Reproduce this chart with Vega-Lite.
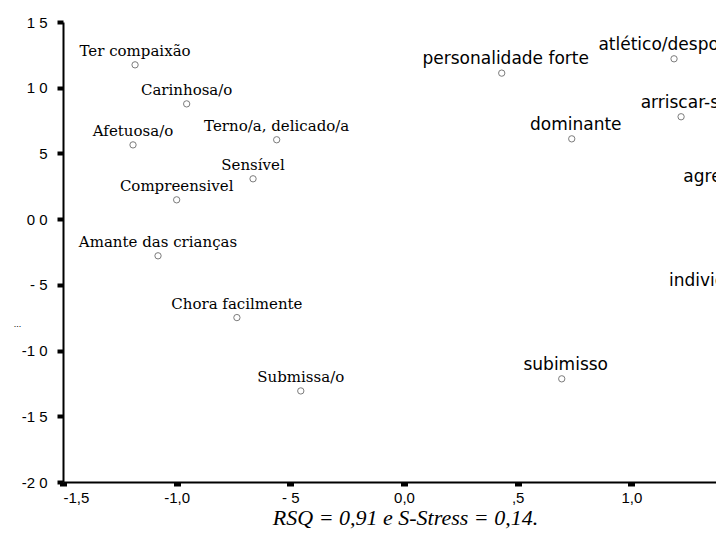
{
  "$schema": "https://vega.github.io/schema/vega-lite/v6.json",
  "autosize": {"type": "none"},
  "width": 653,
  "height": 460,
  "padding": {"left": 63, "top": 22, "right": 0, "bottom": 60},
  "background": "white",
  "config": {"view": {"stroke": null}, "axis": {"grid": false}},
  "datasets": {
    "pts": [
      {"label": "Ter compaixão", "x": -1.183, "y": 1.174, "grp": "f"},
      {"label": "Carinhosa/o", "x": -0.956, "y": 0.877, "grp": "f"},
      {"label": "Afetuosa/o", "x": -1.192, "y": 0.565, "grp": "f"},
      {"label": "Terno/a, delicado/a", "x": -0.56, "y": 0.604, "grp": "f"},
      {"label": "Sensível", "x": -0.664, "y": 0.307, "grp": "f"},
      {"label": "Compreensivel", "x": -1.0, "y": 0.147, "grp": "f"},
      {"label": "Amante das crianças", "x": -1.082, "y": -0.279, "grp": "f"},
      {"label": "Chora facilmente", "x": -0.735, "y": -0.749, "grp": "f"},
      {"label": "Submissa/o", "x": -0.454, "y": -1.307, "grp": "f"},
      {"label": "personalidade forte", "x": 0.43, "y": 1.111, "grp": "m"},
      {"label": "atlético/desportivo", "x": 1.188, "y": 1.22, "grp": "m"},
      {"label": "arriscar-se", "x": 1.219, "y": 0.779, "grp": "m"},
      {"label": "dominante", "x": 0.738, "y": 0.611, "grp": "m"},
      {"label": "agressivo", "x": 1.39, "y": 0.215, "grp": "m"},
      {"label": "individualista", "x": 1.397, "y": -0.58, "grp": "m"},
      {"label": "subimisso", "x": 0.694, "y": -1.215, "grp": "m"}
    ]
  },
  "layer": [
    {
      "data": {"name": "pts"},
      "mark": {"type": "point", "shape": "circle", "filled": false, "stroke": "#444", "strokeWidth": 1, "size": 40},
      "encoding": {
        "x": {
          "field": "x", "type": "quantitative",
          "scale": {"domain": [-1.5, 1.3726], "nice": false, "zero": false},
          "axis": {
            "values": [-1.5, -1, -0.5, 0, 0.5, 1],
            "labelExpr": "datum.value == -1.5 ? '-1,5' : datum.value == -1 ? '-1,0' : datum.value == -0.5 ? '- 5' : datum.value == 0 ? '0,0' : datum.value == 0.5 ? ',5' : '1,0'",
            "domainColor": "black", "domainWidth": 2,
            "tickColor": "black", "tickSize": 4, "tickWidth": 7,
            "labelFont": "Liberation Sans", "labelFontSize": 15, "labelColor": "black", "labelPadding": 4,
            "title": "RSQ = 0,91 e S-Stress = 0,14.",
            "titleFont": "Liberation Serif", "titleFontStyle": "italic", "titleFontWeight": "normal", "titleFontSize": 22,
            "titleColor": "black", "titleX": 342, "titleY": 42, "titleAlign": "center", "titleBaseline": "alphabetic"
          }
        },
        "y": {
          "field": "y", "type": "quantitative",
          "scale": {"domain": [-2, 1.5], "nice": false, "zero": false},
          "axis": {
            "values": [-2, -1.5, -1, -0.5, 0, 0.5, 1, 1.5],
            "labelExpr": "datum.value == 1.5 ? '1  5' : datum.value == 1 ? '1  0' : datum.value == 0.5 ? '5' : datum.value == 0 ? '0  0' : datum.value == -0.5 ? '-  5' : datum.value == -1 ? '-1  0' : datum.value == -1.5 ? '-1  5' : '-2  0'",
            "domainColor": "black", "domainWidth": 2,
            "tickColor": "black", "tickSize": 6, "tickWidth": 4,
            "labelFont": "Liberation Sans", "labelFontSize": 15, "labelColor": "black", "labelPadding": 10,
            "title": "...", "titleFont": "Liberation Sans", "titleFontSize": 9, "titleFontWeight": "normal",
            "titleAngle": 0, "titleX": -46, "titleY": 301, "titleAlign": "center", "titleBaseline": "middle", "titleColor": "black"
          }
        }
      }
    },
    {
      "data": {"name": "pts"},
      "transform": [{"filter": "datum.grp == 'f'"}],
      "mark": {"type": "text", "font": "DejaVu Serif", "fontSize": 15, "color": "black", "align": "center", "baseline": "alphabetic", "dy": -9},
      "encoding": {
        "x": {"field": "x", "type": "quantitative"},
        "y": {"field": "y", "type": "quantitative"},
        "text": {"field": "label"}
      }
    },
    {
      "data": {"name": "pts"},
      "transform": [{"filter": "datum.grp == 'm'"}],
      "mark": {"type": "text", "font": "DejaVu Sans", "fontSize": 17, "color": "black", "align": "center", "baseline": "alphabetic", "dy": -9, "dx": 4},
      "encoding": {
        "x": {"field": "x", "type": "quantitative"},
        "y": {"field": "y", "type": "quantitative"},
        "text": {"field": "label"}
      }
    },
    {
      "mark": {"type": "rule", "color": "black", "strokeWidth": 2.5},
      "encoding": {"x": {"datum": 0, "type": "quantitative"}}
    },
    {
      "mark": {"type": "rule", "color": "black", "strokeWidth": 1.5},
      "encoding": {"y": {"datum": 1.5, "type": "quantitative"}}
    }
  ]
}
